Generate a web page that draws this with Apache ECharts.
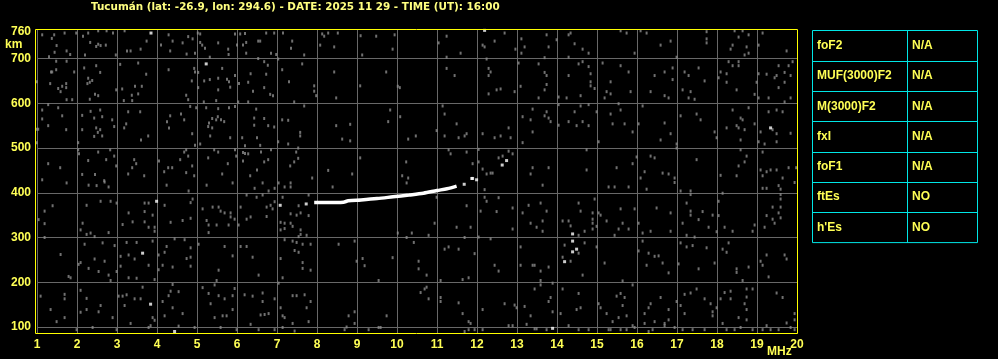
<!DOCTYPE html>
<html>
<head>
<meta charset="utf-8">
<script src="https://cdn.jsdelivr.net/npm/echarts@6/dist/echarts.min.js"></script>
<style>
html,body{margin:0;padding:0;background:#000;}
#c{width:998px;height:359px;}
</style>
</head>
<body>
<div id="c"></div>
<script>
const titleText = 'Tucumán (lat: -26.9, lon: 294.6) - DATE: 2025 11 29 - TIME (UT): 16:00';
const freqTicks = [1,2,3,4,5,6,7,8,9,10,11,12,13,14,15,16,17,18,19,20];
const heightTicks = [100,200,300,400,500,600,700];
const heightLabels = [100,200,300,400,500,600,700,760];
const heightRange = [86.6, 763.8];
const paramNames = ['foF2','MUF(3000)F2','M(3000)F2','fxI','foF1','ftEs',"h'Es"];
const paramValues = ['N/A','N/A','N/A','N/A','N/A','NO','NO'];

// Main echo trace (MHz, km)
const traceMHz = [7.93, 8.30, 8.66, 8.78, 9.10, 9.50, 9.90, 10.30, 10.66, 11.00, 11.25, 11.49];
const traceKm  = [378, 378, 379, 382, 384, 387, 391, 395, 399, 405, 409, 415];

// Isolated strong (white) echoes
const brightEchoes = [[3.85,757],[12.19,763],[5.23,688],[3.99,381],[3.64,265],[3.84,151],[4.44,90],
[14.39,308],[14.39,292],[14.49,274],[14.39,268],[14.19,246],[13.89,97],[19.34,545],[12.63,462],[12.74,472],
[11.89,432],[11.99,429],[7.08,372],[7.73,375],[11.68,419],[11.87,432]];

// Weak background noise echoes (MHz, km)
const noiseEchoes = [
[1.13,753],[1.37,745],[1.43,753],[1.69,757],[1.49,729],[1.44,714],[1.30,704],[1.74,717],[1.83,709],[1.98,757],
[2.15,750],[2.28,757],[2.53,762],[2.74,762],[2.33,736],[2.53,732],[2.59,729],[2.72,730],[2.48,727],[2.20,708],
[2.90,757],[2.97,708],[3.19,762],[3.25,717],[3.34,717],[3.74,739],[3.59,721],[4.29,753],[4.39,739],[4.10,730],
[4.33,717],[4.64,735],[4.78,749],[4.89,744],[4.74,710],[4.95,712],[5.02,757],[5.08,755],[5.08,736],[5.13,730],
[5.53,735],[5.20,723],[5.78,721],[5.79,709],[5.32,703],[5.95,755],[6.00,730],[6.08,755],[6.20,756],[6.23,736],
[6.15,730],[6.53,739],[6.58,739],[6.73,757],[6.93,757],[6.23,712],[6.53,700],[6.85,712],[6.98,709],[7.15,757],
[7.38,739],[7.35,723],[7.68,708],[8.13,755],[8.18,750],[8.28,757],[8.52,757],[8.08,730],[8.43,726],[9.09,751],
[9.48,750],[9.13,708],[9.94,753],[9.89,721],
[1.00,648],[1.35,670],[1.38,670],[1.48,675],[1.33,644],[1.53,633],[1.59,626],[1.63,638],[1.73,635],[1.73,644],
[1.74,694],[1.48,694],[1.74,608],[1.88,608],[1.93,670],[2.18,679],[2.48,684],[2.58,669],[2.28,656],[2.32,647],
[2.38,651],[2.26,644],[2.45,620],[2.53,617],[2.32,609],[3.08,687],[3.53,690],[3.73,665],[2.98,630],[3.13,632],
[3.17,606],[3.38,606],[3.37,618],[3.45,638],[3.53,621],[3.62,638],[4.29,675],[4.73,618],[4.78,608],[4.87,650],
[4.95,670],[4.93,678],[5.03,669],[5.18,650],[5.32,653],[5.53,656],[5.63,678],[5.75,654],[5.80,648],[5.83,636],
[5.95,662],[5.53,630],[5.03,635],[5.17,603],[5.48,606],[6.28,647],[6.34,666],[6.73,665],[6.68,693],[6.77,685],
[6.83,620],[6.90,617],[6.40,627],[6.68,635],[6.28,603],[6.03,603],[6.05,644],[7.13,675],[7.30,648],[7.63,688],
[7.93,639],[7.93,627],[7.98,617],[7.43,603],[7.03,699],[8.43,670],[8.48,612],[9.08,639],[9.73,670],[10.02,638],
[10.07,635],
[1.00,542],[1.03,542],[1.13,585],[1.13,565],[1.28,597],[1.28,550],[1.53,590],[1.63,572],[1.73,541],[1.00,512],
[2.03,512],[2.13,573],[2.13,541],[2.34,582],[2.43,567],[2.48,545],[2.58,541],[2.52,535],[2.43,526],[2.63,570],
[2.63,527],[2.88,563],[2.93,548],[2.58,585],[3.18,545],[3.28,581],[3.23,554],[3.58,581],[3.60,518],[3.78,527],
[4.25,559],[4.30,545],[4.33,572],[4.60,576],[4.68,563],[4.83,593],[4.88,532],[4.95,506],[4.98,590],[5.08,509],
[5.23,590],[5.30,556],[5.38,566],[5.28,548],[5.38,545],[5.52,570],[5.60,563],[5.48,563],[5.53,588],[5.68,559],
[5.80,590],[5.95,593],[5.33,527],[5.83,523],[6.13,523],[6.20,505],[6.43,567],[6.43,551],[6.48,587],[6.50,523],
[6.68,566],[6.78,550],[6.93,547],[6.58,506],[7.13,563],[7.28,562],[7.58,535],[7.58,527],[7.68,594],[7.03,514],
[7.28,509],[8.48,550],[8.83,553],[8.63,520],[8.83,516],[9.83,585],[9.78,559],[10.08,570],[10.28,520],[10.47,527],
[1.28,465],[1.58,456],[1.13,429],[2.03,496],[2.05,487],[2.28,472],[2.53,491],[2.73,474],[2.83,496],[2.93,482],
[2.98,460],[2.13,441],[2.45,441],[2.68,427],[3.43,474],[3.38,456],[3.48,465],[3.28,442],[3.68,438],[4.05,471],
[4.18,447],[4.28,456],[4.38,456],[4.58,474],[4.68,491],[4.73,496],[4.78,482],[4.88,460],[4.93,438],[4.73,445],
[5.28,478],[5.43,496],[5.53,491],[5.95,496],[5.98,482],[5.77,465],[5.63,442],[6.15,490],[6.20,488],[6.15,471],
[6.28,487],[6.60,491],[6.68,469],[6.78,474],[6.33,438],[6.50,451],[6.85,496],[7.43,469],[7.48,491],[7.53,477],
[7.33,460],[7.53,500],[7.88,433],[8.28,450],[9.08,478],[8.88,442],[10.23,469],[10.13,438],[10.28,433],
[11.24,750],[11.04,735],[11.59,712],[11.24,703],[12.14,730],[12.19,726],[12.44,739],[12.69,757],[12.96,721],[13.11,744],
[13.19,726],[13.11,712],[13.74,753],[13.79,726],[13.99,742],[13.69,702],[14.29,753],[14.34,757],[14.44,733],[14.64,721],
[14.79,712],[14.29,703],[15.59,762],[15.74,757],[15.94,712],[16.09,762],[16.24,757],[16.59,730],[16.84,739],[16.99,703],
[17.74,760],[17.74,744],[17.74,735],[18.39,730],[18.34,721],[18.44,762],[18.54,748],[18.64,762],[18.79,753],[18.74,726],
[18.69,708],[18.79,712],[19.14,757],[19.74,717],[19.04,730],
[11.24,678],[11.44,662],[12.29,678],[12.34,670],[12.29,662],[12.24,699],[12.29,621],[12.49,630],[12.59,632],[12.94,626],
[13.04,690],[13.09,638],[13.54,688],[13.69,669],[13.74,662],[13.74,642],[13.69,630],[13.54,612],[14.04,614],[14.04,597],
[14.29,662],[14.24,612],[14.54,688],[14.59,617],[14.64,693],[14.79,682],[14.84,666],[14.84,648],[14.84,639],[14.94,633],
[15.14,690],[15.34,648],[15.24,626],[15.34,621],[15.19,612],[15.59,684],[15.79,670],[15.84,626],[16.44,662],[16.34,626],
[16.69,670],[16.69,617],[16.79,612],[16.89,679],[16.89,653],[17.19,670],[17.29,662],[17.14,630],[17.34,626],[17.29,612],
[17.44,609],[17.54,679],[17.69,650],[18.04,657],[18.09,670],[18.24,666],[18.24,647],[18.29,693],[18.39,684],[18.54,693],
[18.54,684],[18.49,630],[18.99,647],[18.94,620],[19.04,666],[19.04,612],[19.24,665],[19.29,612],[19.44,657],[19.49,662],
[19.54,684],[19.69,669],[19.69,647],[19.79,684],[19.84,662],[19.89,693],[19.69,603],[19.84,612],[19.54,635],
[11.14,594],[11.19,576],[11.49,554],[10.99,539],[11.19,527],[11.54,523],[11.69,527],[11.74,532],[12.14,532],[12.44,523],
[12.59,527],[12.79,545],[12.84,523],[13.14,570],[13.34,563],[13.39,587],[13.39,536],[13.69,572],[13.74,581],[13.79,567],
[13.84,559],[13.14,512],[14.04,551],[14.29,559],[14.44,581],[14.49,550],[14.59,594],[14.64,559],[14.79,550],[14.79,597],
[14.99,581],[15.04,514],[15.34,576],[15.39,554],[15.54,599],[15.59,585],[15.69,554],[15.89,536],[16.04,554],[16.14,594],
[16.59,518],[16.69,556],[16.84,532],[16.99,509],[17.09,572],[17.49,576],[17.59,563],[17.94,536],[17.99,523],[18.24,545],
[18.39,585],[18.49,550],[18.54,545],[18.59,567],[18.64,563],[18.69,541],[18.79,590],[18.59,518],[18.94,554],[19.04,514],
[19.09,536],[19.19,509],[19.29,581],[19.39,541],[19.49,532],[19.49,585],[19.64,581],[19.49,514],[19.84,533],
[11.29,496],[11.34,487],[11.74,491],[12.04,497],[11.89,465],[12.04,469],[12.54,478],[12.64,482],[12.79,493],[12.89,487],
[12.14,453],[12.24,442],[12.34,444],[12.39,444],[13.39,456],[13.34,442],[13.79,456],[14.74,496],[14.74,451],[15.49,456],
[15.89,465],[15.99,480],[16.09,433],[16.19,447],[16.34,482],[16.44,478],[16.64,444],[16.79,442],[16.94,433],[16.99,500],
[17.49,474],[18.09,439],[18.49,438],[18.59,496],[18.74,482],[18.69,469],[18.54,460],[19.14,491],[19.09,451],[19.14,438],
[19.24,447],[19.34,451],[19.49,451],[19.64,433],[19.79,456],[19.98,456],
[1.74,422],[2.29,417],[2.49,416],[2.79,413],[2.69,424],[4.24,417],[4.79,404],[5.24,417],[5.89,422],[6.44,410],
[6.64,422],[6.79,404],[6.94,410],[7.04,422],[7.19,413],[7.34,422],[7.34,413],[8.39,413],[10.24,422],
[1.39,371],[1.19,359],[1.04,340],[1.19,331],[1.19,300],[2.24,372],[2.59,381],[2.84,381],[2.99,377],[2.14,332],
[2.09,317],[2.24,307],[2.34,310],[2.44,302],[2.79,311],[3.29,355],[3.14,329],[3.39,335],[3.69,377],[3.79,377],
[3.69,358],[3.89,350],[3.69,335],[3.79,323],[3.94,323],[3.94,314],[4.19,372],[4.84,378],[4.89,386],[4.84,343],
[4.64,338],[4.34,334],[5.14,364],[5.24,338],[5.39,368],[5.54,368],[5.59,359],[5.69,355],[5.84,355],[5.84,346],
[5.94,341],[6.04,328],[6.09,368],[5.29,328],[5.49,328],[5.79,328],[5.29,311],[6.24,395],[6.24,341],[6.34,346],
[6.49,390],[6.64,395],[6.74,368],[6.89,364],[6.84,372],[6.94,380],[6.74,347],[7.14,390],[7.34,353],[7.49,350],
[7.59,355],[7.79,349],[7.54,371],[7.09,334],[7.19,332],[7.34,332],[7.09,317],[7.19,320],[7.39,325],[7.59,317],
[7.59,307],[7.74,305],[7.54,302],[7.79,395],[10.37,310],[10.02,310],[10.24,300],
[1.59,262],[1.84,210],[1.79,213],[2.04,240],[2.09,244],[2.19,285],[2.29,231],[2.44,252],[2.54,224],[2.64,288],
[2.69,247],[2.79,216],[2.84,204],[2.94,282],[2.99,224],[3.09,258],[3.09,236],[3.24,289],[3.29,261],[3.44,252],
[3.49,289],[3.29,210],[3.49,209],[3.79,238],[3.89,292],[3.94,206],[4.04,261],[4.04,228],[4.14,238],[4.24,280],
[4.19,267],[4.39,234],[4.44,297],[4.69,295],[4.84,277],[4.74,253],[4.84,256],[4.84,236],[5.04,285],[5.54,227],
[5.49,204],[5.69,280],[5.89,259],[6.09,280],[6.24,280],[6.39,256],[6.54,216],[7.14,210],[7.19,295],[7.39,292],
[7.49,289],[7.44,271],[7.54,267],[7.64,285],[7.84,285],[7.64,244],[7.64,231],[7.84,227],[7.09,253],[8.54,285],
[8.94,292],[9.14,253],[9.19,237],[8.99,247],[9.54,204],[9.89,255],[10.42,289],
[1.09,169],[1.69,173],[1.69,163],[1.34,139],[1.49,112],[1.69,121],[2.09,182],[2.24,164],[2.09,133],[2.24,139],
[2.54,134],[2.59,148],[2.89,121],[3.04,169],[3.14,169],[3.24,172],[3.44,163],[3.59,163],[3.19,148],[3.64,189],
[3.34,108],[3.89,121],[3.94,115],[3.84,103],[4.14,157],[4.34,180],[4.39,195],[4.54,179],[4.29,170],[4.39,143],
[4.64,130],[4.19,125],[5.14,188],[5.44,194],[5.29,175],[5.54,170],[5.69,163],[5.94,186],[5.89,170],[5.34,152],
[5.44,121],[5.64,125],[5.74,125],[5.89,139],[6.19,172],[6.39,169],[6.64,176],[6.64,157],[6.94,163],[6.59,127],
[6.69,128],[6.79,130],[7.04,198],[7.09,143],[7.19,121],[7.14,125],[7.39,170],[7.49,170],[7.69,172],[7.84,157],
[7.74,143],[7.39,108],[7.14,99],[8.94,134],[8.79,125],[8.94,108],[8.74,100],[9.74,125],[9.29,94],[9.54,99],
[7.79,112],
[1.99,94],[2.39,99],[2.99,94],[3.79,99],[4.54,102],[4.94,99],[5.59,99],[5.99,94],[6.34,106],[6.54,94],
[6.94,94],[7.44,91],[8.69,94],[9.59,99],
[12.19,407],[13.64,417],[15.29,413],[15.44,413],[15.79,413],[16.24,408],[16.94,423],[17.34,404],[17.34,396],[19.14,410],
[19.24,410],[19.54,416],[19.59,408],[19.59,396],[17.09,404],[18.14,399],[19.94,423],
[10.99,390],[10.94,332],[10.79,305],[11.74,371],[11.49,323],[11.84,323],[12.19,390],[12.24,381],[12.54,389],[12.49,358],
[12.09,359],[12.89,366],[12.89,319],[13.29,372],[13.14,355],[13.59,377],[13.74,359],[13.64,337],[13.34,332],[13.49,323],
[13.64,314],[14.14,337],[14.29,337],[14.54,377],[14.59,359],[14.34,326],[14.54,305],[14.69,314],[14.89,355],[14.89,341],
[14.89,332],[14.89,319],[14.99,325],[15.04,355],[15.09,350],[15.24,337],[14.94,386],[15.44,305],[15.54,319],[15.59,364],
[15.64,332],[15.79,319],[15.94,364],[16.04,332],[16.14,310],[16.34,314],[16.49,366],[16.84,355],[16.84,314],[17.24,377],
[17.14,332],[17.34,359],[17.34,350],[17.24,305],[17.44,301],[17.54,340],[17.64,358],[17.89,350],[17.79,323],[17.99,313],
[18.04,349],[18.04,381],[18.19,323],[18.39,314],[18.94,328],[18.89,314],[19.19,323],[19.24,349],[19.39,368],[19.39,341],
[19.59,368],[19.59,344],[19.44,332],[19.59,386],[19.54,355],[11.69,300],[12.04,301],[12.34,297],
[11.19,274],[11.29,279],[11.54,274],[11.94,264],[10.54,247],[10.54,230],[10.74,216],[12.44,238],[12.54,225],[13.09,279],
[13.09,238],[13.39,238],[13.44,238],[13.59,225],[13.79,234],[14.19,283],[14.14,256],[14.34,247],[14.54,265],[14.64,216],
[14.69,288],[14.99,279],[15.19,243],[16.04,270],[16.14,292],[16.29,265],[16.44,258],[16.54,259],[16.64,243],[16.24,238],
[16.79,221],[17.04,241],[17.09,288],[17.24,279],[17.39,282],[17.74,277],[17.94,243],[17.54,230],[18.29,288],[18.14,274],
[18.24,267],[18.49,230],[18.49,222],[18.64,204],[18.79,234],[19.09,247],[19.14,238],[19.24,261],[19.29,212],[19.69,261],
[19.74,252],[11.64,206],[11.79,210],[11.09,204],[15.64,203],
[10.74,189],[10.69,185],[10.59,177],[10.79,163],[11.09,166],[11.09,157],[11.54,154],[12.14,139],[11.64,130],[11.79,112],
[11.84,108],[12.69,152],[12.94,149],[12.99,143],[13.19,146],[13.44,185],[13.59,204],[13.59,194],[13.89,198],[13.84,166],
[13.79,157],[13.89,134],[13.34,125],[13.24,106],[14.14,185],[14.09,130],[14.54,175],[14.59,143],[14.49,139],[14.29,103],
[15.04,152],[15.09,143],[15.24,130],[15.39,112],[15.49,169],[15.59,175],[15.69,166],[15.64,148],[15.74,125],[15.54,121],
[15.89,194],[15.89,103],[16.19,130],[16.34,152],[16.29,143],[16.59,166],[16.79,139],[16.79,116],[16.69,108],[16.44,112],
[16.99,157],[17.19,173],[17.34,176],[17.49,185],[17.09,148],[17.19,130],[17.84,152],[17.89,134],[17.89,125],[17.69,163],
[17.99,143],[18.09,163],[18.19,177],[18.34,180],[18.34,163],[18.54,121],[18.69,152],[18.74,139],[18.74,116],[18.74,167],
[18.74,185],[18.89,185],[18.59,99],[18.14,108],[19.49,176],[19.64,166],[19.94,130],[19.94,116],[19.74,109],[19.24,103],
[19.84,99],[16.19,108],[16.94,99],[16.69,103],
[11.69,90],[11.79,94],[11.94,94],[12.14,94],[12.79,103],[12.89,103],[13.44,96],[13.49,96],[13.74,94],[14.54,94],
[14.79,94],[15.29,94],[15.34,94],[15.59,94],[15.74,94],[15.94,99],[16.29,90],[16.39,94],[17.14,94],[17.39,94],
[17.69,94],[18.24,94],[18.44,94],[18.89,94],[19.14,94],[19.34,94],[19.54,94],[19.94,94]
];

const chart = echarts.init(document.getElementById('c'), null, {renderer: 'canvas'});

const YEL = '#ffff55';
const CYAN = '#00e6e6';
const labelFont = {fontFamily: 'Liberation Sans, Arial, sans-serif', fontWeight: 'bold', fontSize: 12};

// table graphics
const tblX0 = 812.5, tblX1 = 907.5, tblX2 = 977.5, tblY0 = 30.5, rowH = 30.3;
const tableGraphics = [];
tableGraphics.push({type:'rect', shape:{x:tblX0, y:tblY0, width:tblX2-tblX0, height:rowH*paramNames.length}, style:{fill:'none', stroke:CYAN, lineWidth:1}, z:10});
tableGraphics.push({type:'line', shape:{x1:tblX1, y1:tblY0, x2:tblX1, y2:tblY0+rowH*paramNames.length}, style:{stroke:CYAN, lineWidth:1}, z:10});
paramNames.forEach((name, i) => {
  if (i > 0) {
    const yy = Math.round(tblY0 + rowH*i) + 0.5;
    tableGraphics.push({type:'line', shape:{x1:tblX0, y1:yy, x2:tblX2, y2:yy}, style:{stroke:CYAN, lineWidth:1}, z:10});
  }
  const cy = tblY0 + rowH*(i+0.5);
  tableGraphics.push({type:'text', x:817, y:cy, style:Object.assign({text:name, fill:YEL, verticalAlign:'middle', align:'left'}, labelFont), z:11});
  tableGraphics.push({type:'text', x:912, y:cy, style:Object.assign({text:paramValues[i], fill:YEL, verticalAlign:'middle', align:'left'}, labelFont), z:11});
});

const option = {
  backgroundColor: '#000',
  animation: false,
  grid: {left: 37, top: 30, right: 201, bottom: 26, containLabel: false},
  xAxis: {
    type: 'value', min: freqTicks[0], max: freqTicks[freqTicks.length-1], interval: 1,
    axisLine: {show: false}, axisTick: {show: false},
    axisLabel: Object.assign({color: YEL, margin: 6, showMinLabel: true, showMaxLabel: true}, labelFont),
    splitLine: {show: true, lineStyle: {color: '#686868', width: 1}}
  },
  yAxis: {
    type: 'value', min: heightRange[0], max: heightRange[1],
    axisLine: {show: false},
    axisTick: {show: false, customValues: heightTicks},
    axisLabel: Object.assign({color: YEL, margin: 6, customValues: heightLabels}, labelFont),
    splitLine: {show: true, lineStyle: {color: '#686868', width: 1}}
  },
  series: [
    {
      type: 'scatter', data: noiseEchoes, symbol: 'rect', symbolSize: [2, 3],
      itemStyle: {color: '#8c8c8c'}, silent: true, z: 2
    },
    {
      type: 'line', data: traceMHz.map((f, i) => [f, traceKm[i]]), showSymbol: false, smooth: 0.3,
      lineStyle: {color: '#ffffff', width: 3.5}, silent: true, z: 4
    },
    {
      type: 'scatter', data: brightEchoes, symbol: 'rect', symbolSize: [3, 3],
      itemStyle: {color: '#ffffff'}, silent: true, z: 5
    }
  ],
  graphic: [
    {type:'text', x:91, y:7, style:{text:titleText, fill:'#ffff80', fontFamily:'DejaVu Sans, Liberation Sans, sans-serif', fontWeight:'bold', fontSize:10.4, verticalAlign:'middle'}, z:10},
    {type:'rect', shape:{x:35.5, y:29.5, width:762, height:304}, style:{fill:'none', stroke:'#ffff00', lineWidth:1}, z:20},
    {type:'text', x:5, y:45, style:Object.assign({text:'km', fill:YEL, verticalAlign:'middle', align:'left'}, labelFont), z:10},
    {type:'text', x:767, y:352, style:Object.assign({text:'MHz', fill:YEL, verticalAlign:'middle', align:'left'}, labelFont), z:10}
  ].concat(tableGraphics)
};
chart.setOption(option);
</script>
</body>
</html>
